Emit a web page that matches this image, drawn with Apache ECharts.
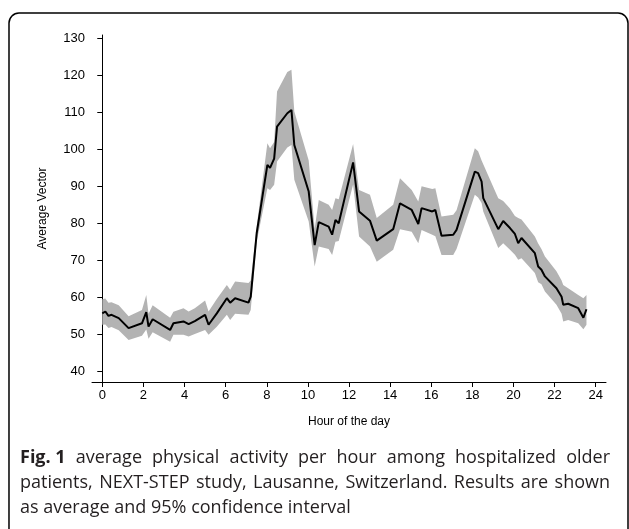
<!DOCTYPE html>
<html><head><meta charset="utf-8">
<script src="https://cdn.jsdelivr.net/npm/echarts@6/dist/echarts.min.js"></script>
<style>html,body{margin:0;padding:0;background:#fff}#c{width:629px;height:529px}</style>
</head><body><div id="c"></div>
<script>
// Hour of the day
const hours = [0,0.15,0.3,0.45,0.8,1.28,1.93,2.14,2.25,2.45,3.3,3.46,3.95,4.2,4.5,5.0,5.17,5.57,6.06,6.22,6.46,7.11,7.22,7.51,8.03,8.16,8.36,8.5,9.0,9.2,9.34,10.04,10.33,10.53,11.01,11.18,11.34,11.5,12.2,12.49,13.02,13.35,14.15,14.48,15.05,15.37,15.53,16.05,16.2,16.5,17.07,17.23,18.12,18.28,18.45,18.53,19.26,19.5,19.83,20.07,20.23,20.39,21.04,21.2,21.36,21.53,22.09,22.34,22.42,22.66,23.15,23.4,23.55];
// Average vector (mean)
const meanVals = [55.6,56.1,54.9,55.2,54.3,51.6,52.9,55.9,52.0,54.0,51.1,52.9,53.4,52.7,53.5,55.2,52.5,55.6,59.7,58.5,59.7,58.5,60.1,77.3,95.8,95.0,97.5,106.2,109.8,110.7,101.2,88.6,74.1,80.3,79.1,76.9,80.9,80.0,96.5,83.2,80.7,75.3,78.4,85.4,83.6,79.8,84.1,83.2,83.6,76.6,76.9,78.2,94.0,93.6,91.3,86.8,78.4,80.6,78.7,77.1,74.6,76.0,71.9,68.3,67.4,65.6,62.4,60.1,57.9,58.2,57.0,54.4,56.7];
// 95% CI upper bound
const upperVals = [59.4,59.6,58.5,58.6,57.8,54.8,56.5,60.6,55.5,57.8,54.4,56.0,57.0,56.1,57.0,59.1,56.1,59.5,63.3,62.0,64.2,63.8,64.5,79.1,101.7,100.3,102.0,115.7,121.0,121.6,110.3,97.0,78.5,86.3,85.0,83.6,86.8,86.5,101.5,89.0,87.7,81.4,85.0,92.2,89.0,85.9,90.0,89.3,89.5,81.8,82.3,83.5,100.3,99.5,97.0,96.0,86.8,86.0,84.0,82.0,81.4,81.0,76.4,74.5,73.0,71.0,67.0,64.5,63.3,62.4,60.6,59.7,60.6];
// 95% CI lower bound
const lowerVals = [52.5,52.6,51.6,51.9,51.0,48.4,49.5,51.2,48.7,50.5,47.9,49.8,49.8,49.3,50.0,51.1,49.8,52.0,55.2,53.8,55.5,55.2,56.5,75.0,89.5,89.0,90.4,96.7,100.5,101.2,91.8,80.5,68.3,73.7,73.0,71.4,75.0,75.2,90.5,76.4,73.7,69.6,72.8,78.4,77.7,74.6,78.2,76.9,76.5,71.4,71.4,73.0,87.7,87.0,85.5,83.2,73.3,74.6,72.8,71.5,70.1,70.5,66.5,64.0,63.5,61.5,57.9,55.5,53.4,53.8,52.9,51.3,52.5];
const xTicks = [0,2,4,6,8,10,12,14,16,18,20,22,24];
const yTicks = [40,50,60,70,80,90,100,110,120,130];
const captionLines = [
  ['Fig. 1', 'average physical activity per hour among hospitalized older'],
  ['', 'patients, NEXT-STEP study, Lausanne, Switzerland. Results are shown'],
  ['', 'as average and 95% confidence interval']
];

const chart = echarts.init(document.getElementById('c'), null, {renderer:'canvas'});
const font = 'Liberation Sans, Arial, sans-serif';
const capFont = '"Open Sans", sans-serif';
const capSize = 18;
const meanData = hours.map((h,i)=>[h, meanVals[i]]);

// caption layout (justified first two lines, like the printed figure)
const cv = document.createElement('canvas').getContext('2d');
function w(txt, bold){ cv.font = (bold?'bold ':'') + capSize + 'px ' + capFont; return cv.measureText(txt).width; }
const capGraphics = [];
const capLeft = 20, capRight = 610, capTop0 = 449, capStep = 25;
captionLines.forEach((ln, li) => {
  const words = [];
  if (ln[0]) words.push({t:ln[0], b:true});
  ln[1].split(' ').forEach(t => words.push({t:t, b:false}));
  const widths = words.map(o => w(o.t, o.b));
  const total = widths.reduce((a,b)=>a+b,0);
  const sp = w(' ', false);
  const justify = li < captionLines.length - 1;
  let gap = justify ? (capRight - capLeft - total) / (words.length - 1) : sp;
  if (gap < sp * 0.7) gap = sp * 0.7;
  let x = capLeft;
  words.forEach((o, i) => {
    capGraphics.push({type:'text', x:x, y:capTop0 + li*capStep,
      style:{text:o.t, fontFamily:capFont, fontSize:capSize, fontWeight:o.b?'bold':'normal', fill:'#231f20'}});
    x += widths[i] + gap;
  });
});

chart.setOption({
  animation:false,
  backgroundColor:'#fff',
  grid:{left:92, right:23, top:35, bottom:147, containLabel:false},
  xAxis:{type:'value', min:-0.5, max:24.5,
    name:'Hour of the day', nameLocation:'middle', nameGap:34,
    nameTextStyle:{fontFamily:font, fontSize:12, color:'#000'},
    axisLine:{show:true, lineStyle:{color:'#000', width:1}},
    axisTick:{show:true, length:5, lineStyle:{color:'#000'}, customValues:xTicks},
    axisLabel:{fontFamily:font, fontSize:13, color:'#000', margin:7, customValues:xTicks},
    splitLine:{show:false}},
  yAxis:{type:'value', min:37, max:131,
    name:'Average Vector', nameLocation:'middle', nameGap:43, nameRotate:90,
    nameTextStyle:{fontFamily:font, fontSize:12, color:'#000'},
    axisLine:{show:true, lineStyle:{color:'#000', width:1}},
    axisTick:{show:true, length:5, lineStyle:{color:'#000'}, customValues:yTicks},
    axisLabel:{fontFamily:font, fontSize:13, color:'#000', margin:7, customValues:yTicks},
    splitLine:{show:false}},
  series:[
    {type:'custom', data:[[0,0]], silent:true, clip:true, z:1,
     renderItem:function(params, api){
       const pts=[];
       for(let i=0;i<hours.length;i++) pts.push(api.coord([hours[i], upperVals[i]]));
       for(let i=hours.length-1;i>=0;i--) pts.push(api.coord([hours[i], lowerVals[i]]));
       return {type:'polygon', shape:{points:pts}, style:{fill:'#b3b3b3', stroke:null}};
     }},
    {type:'line', data:meanData, showSymbol:false, symbol:'none', z:3,
     lineStyle:{color:'#000', width:2}}
  ],
  graphic:[
    {type:'rect', shape:{x:9, y:13, width:619, height:560, r:10}, style:{fill:null, stroke:'#000', lineWidth:1.5}, z:-1}
  ].concat(capGraphics)
});
</script></body></html>
